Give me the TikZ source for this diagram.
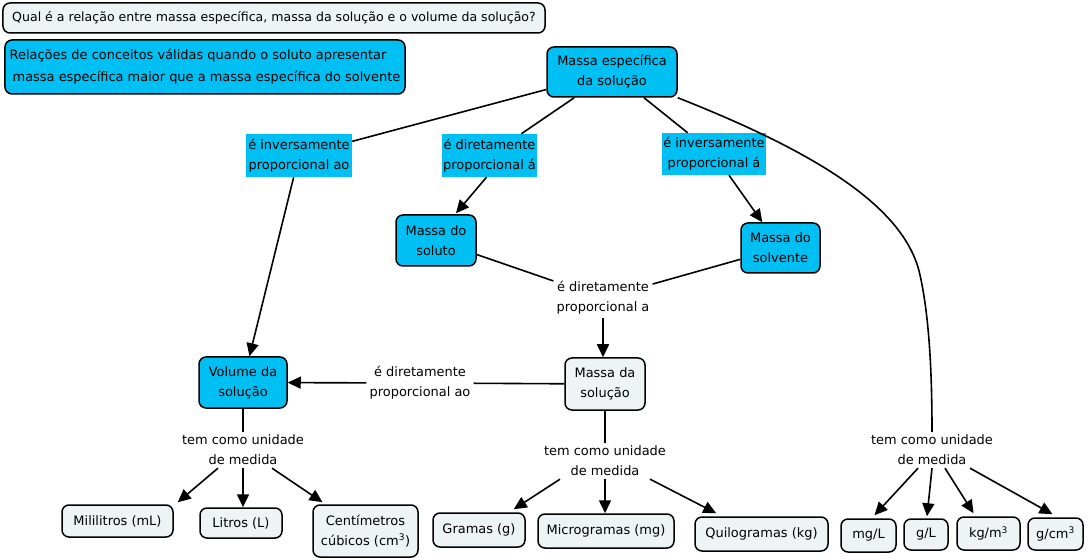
\documentclass[tikz,border=0pt]{standalone}
\usepackage{fontspec}
\setmainfont{DejaVu Sans}
\usetikzlibrary{arrows.meta,calc}
\definecolor{cyanbox}{HTML}{00BFF2}
\definecolor{graybox}{HTML}{EEF3F5}
\tikzset{
  txt/.style={font=\fontsize{13}{20}\selectfont, align=center, inner sep=1bp},
  concept/.style={txt, draw=black, line width=1.5bp, rounded corners=7bp, fill=cyanbox},
  gconcept/.style={txt, draw=black, line width=1.5bp, rounded corners=7bp, fill=graybox},
  lbl/.style={txt, fill=cyanbox, inner sep=1bp},
  plain/.style={txt, fill=white, inner sep=3bp},
  conn/.style={line width=1.6bp, draw=black},
  arr/.style={conn, -{Triangle[length=13bp,width=12bp]}},
}
\begin{document}
\begin{tikzpicture}[x=1bp,y=-1bp]
\useasboundingbox (0,0) rectangle (1088,560);
% nodes
\node[gconcept, minimum width=542bp, minimum height=30bp, font=\fontsize{12.6}{20}\selectfont] (q) at (274,18) {Qual é a relação entre massa específica, massa da solução e o volume da solução?};
\node[concept, minimum width=400bp, minimum height=54bp, align=left, font=\fontsize{13}{22}\selectfont] (note) at (205,67) {Relações de conceitos válidas quando o soluto apresentar\\\hspace{3bp}massa específica maior que a massa específica do solvente};
\node[concept, minimum width=130bp, minimum height=50bp] (me) at (612,72) {Massa específica\\da solução};
\node[lbl, minimum width=106bp, minimum height=43bp] (l1) at (299,155.5) {é inversamente\\proporcional ao};
\node[lbl, minimum width=83bp, minimum height=43bp] (l2) at (489.5,155.5) {é diretamente\\proporcional á};
\node[lbl, minimum width=104bp, minimum height=42bp] (l3) at (714,154) {é inversamente\\proporcional á};
\node[concept, minimum width=80bp, minimum height=51bp] (ms) at (436,240.5) {Massa do\\soluto};
\node[concept, minimum width=79bp, minimum height=50bp] (mv) at (780.5,248) {Massa do\\solvente};
\node[plain] (t1) at (603,298) {é diretamente\\proporcional a};
\node[gconcept, minimum width=80bp, minimum height=52bp] (msol) at (605,384) {Massa da\\solução};
\node[concept, minimum width=88bp, minimum height=51bp] (vol) at (243,382.5) {Volume da\\solução};
\node[plain] (t2) at (420,383) {é diretamente\\proporcional ao};
\node[plain] (u1) at (243,450) {tem como unidade\\de medida};
\node[plain] (u2) at (605,461) {tem como unidade\\de medida};
\node[plain] (u3) at (932,450) {tem como unidade\\de medida};
\node[gconcept, minimum width=111bp, minimum height=32bp] (b1) at (117.5,521) {Mililitros (mL)};
\node[gconcept, minimum width=82bp, minimum height=30bp] (b2) at (241,523) {Litros (L)};
\node[gconcept, minimum width=105bp, minimum height=52bp] (b3) at (365.5,531) {Centímetros\\cúbicos (cm\textsuperscript{3})};
\node[gconcept, minimum width=92bp, minimum height=34bp] (b4) at (479,530) {Gramas (g)};
\node[gconcept, minimum width=136bp, minimum height=34bp] (b5) at (606,531) {Microgramas (mg)};
\node[gconcept, minimum width=133bp, minimum height=34bp] (b6) at (761.5,534) {Quilogramas (kg)};
\node[gconcept, minimum width=55bp, minimum height=33bp] (b7) at (868.5,535.5) {mg/L};
\node[gconcept, minimum width=44bp, minimum height=31bp] (b8) at (926,534.5) {g/L};
\node[gconcept, minimum width=63bp, minimum height=33bp] (b9) at (988.5,533.5) {kg/m\textsuperscript{3}};
\node[gconcept, minimum width=55bp, minimum height=32bp] (b10) at (1055.5,534) {g/cm\textsuperscript{3}};
% connectors
\draw[conn] (me) -- (l1);
\draw[arr] (l1) -- (vol);
\draw[conn] (me) -- (l2);
\draw[arr] ([xshift=-3bp]l2.south) -- ([shift={(20,-1)}]ms.north);
\draw[conn] (me) -- (l3);
\draw[arr] (l3) -- (mv);
\draw[conn] (me.south east) .. controls (810,150) and (905,205) .. (920,275) .. controls (930,320) and (932,380) .. (u3.north);
\draw[conn] (ms) -- (t1);
\draw[conn] (mv) -- (t1);
\draw[arr] (t1.south) -- (t1.south |- msol.north);
\draw[conn] (msol) -- (t2);
\draw[arr] (t2) -- (vol);
\draw[conn] (vol) -- (u1);
\draw[arr] ([xshift=-25bp]u1.south) -- ([shift={(4,-2)}]b1.north east);
\draw[arr] (u1.south) -- (u1.south |- b2.north);
\draw[arr] ([xshift=29bp]u1.south) -- ([shift={(-43,-2)}]b3.north);
\draw[conn] (msol) -- (u2);
\draw[arr] ([xshift=-45bp]u2.south) -- ([shift={(-12,-3)}]b4.north east);
\draw[arr] (u2.south) -- (u2.south |- b5.north);
\draw[arr] ([xshift=45bp]u2.south) -- ([shift={(22,-3)}]b6.north west);
\draw[arr] ([xshift=-14bp]u3.south) -- ([shift={(6,-3)}]b7.north);
\draw[arr] (u3.south) -- ([shift={(1,-2)}]b8.north);
\draw[arr] ([xshift=13bp]u3.south) -- ([shift={(-15,-3)}]b9.north);
\draw[arr] ([xshift=38bp]u3.south) -- ([shift={(-3,-3)}]b10.north);
\end{tikzpicture}
\end{document}
